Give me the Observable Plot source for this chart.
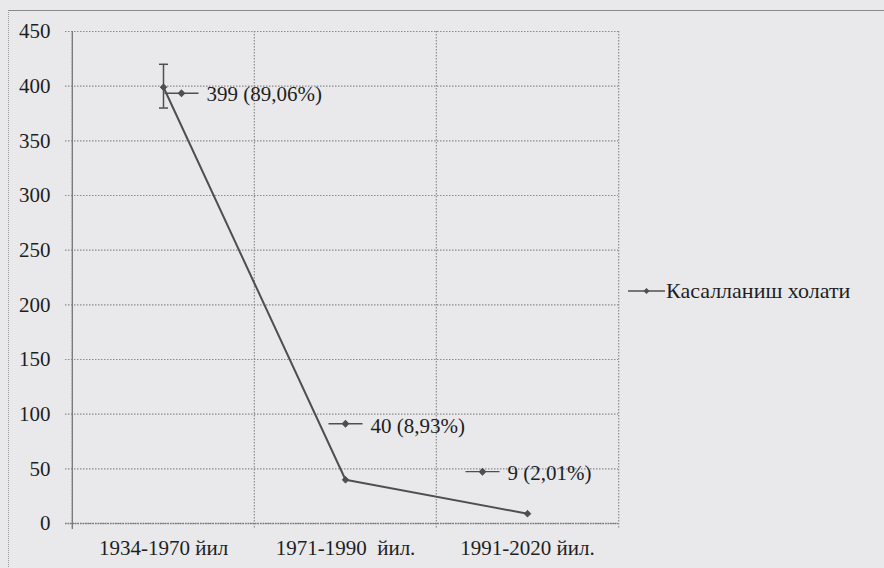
<!DOCTYPE html>
<html>
<head>
<meta charset="utf-8">
<script src="https://cdn.jsdelivr.net/npm/d3@7"></script>
<script src="https://cdn.jsdelivr.net/npm/@observablehq/plot@0.6"></script>
<style>
  html, body { margin: 0; padding: 0; background: #e9e9eb; }
  #wrap { position: relative; width: 884px; height: 568px; overflow: hidden; }
  #frame { position: absolute; left: 8px; top: 10px; width: 900px; height: 600px;
           border-top: 1.5px solid #8a8a8a; border-left: 1px dotted #9a9a9a; pointer-events: none; }
  #legend { position: absolute; left: 628px; top: 278px; display: flex; align-items: center;
            font-size: 22px; color: #1e1e1e; }
  #legend svg { display: block; margin-right: 1px; }
</style>
</head>
<body>
<div id="wrap">
  <div id="chart"></div>
  <div id="frame"></div>
  <div id="legend"></div>
</div>
<script>
// ---- data ----
const categories = ["1934-1970 йил", "1971-1990  йил.", "1991-2020 йил."];
const values = [399, 40, 9];
const labels = ["399 (89,06%)", "40 (8,93%)", "9 (2,01%)"];
const errorLow = [380, null, null];
const errorHigh = [420, null, null];
const yTicks = [0, 50, 100, 150, 200, 250, 300, 350, 400, 450];
const seriesName = "Касалланиш холати";

// ---- layout ----
const W = 884, H = 568;
const mL = 71, mR = 266, mT = 31, mB = 45;
const step = (W - mL - mR) / categories.length;
const ink = "#4f4f4f";
const gridInk = "#8c8c8c";
const serif = "'Liberation Serif', serif";

const rows = categories.map((c, i) => ({cat: c, v: values[i], label: labels[i], lo: errorLow[i], hi: errorHigh[i]}));
const errRows = rows.filter(d => d.lo != null);

// custom symbols
const capSymbol = {draw(ctx) { ctx.moveTo(-4.5, 0); ctx.lineTo(4.5, 0); }};
const markSymbol = {draw(ctx) {
  ctx.moveTo(0, -3.3); ctx.lineTo(3.3, 0); ctx.lineTo(0, 3.3); ctx.lineTo(-3.3, 0); ctx.closePath();
}};
const keySymbol = {draw(ctx) {
  ctx.moveTo(-17, 0); ctx.lineTo(17, 0);
  ctx.moveTo(0, -3); ctx.lineTo(3, 0); ctx.lineTo(0, 3); ctx.lineTo(-3, 0); ctx.closePath();
}};

// per-label placement (offsets in px, as dragged in the original)
const labelPlacement = [
  {kdx: 18, kdy: 6, tdx: 43, tdy: 7},
  {kdx: 0, kdy: -56, tdx: 25, tdy: -54},
  {kdx: -45, kdy: -42, tdx: -20, tdy: -40}
];

const labelMarks = rows.flatMap((d, i) => {
  const p = labelPlacement[i];
  return [
    Plot.dot([d], {x: "cat", y: "v", symbol: keySymbol, r: 4, fill: ink, stroke: ink, strokeWidth: 1.4, dx: p.kdx, dy: p.kdy}),
    Plot.text([d], {x: "cat", y: "v", text: "label", textAnchor: "start", dx: p.tdx, dy: p.tdy,
                    fill: "#1e1e1e", fontSize: 21})
  ];
});

const chart = Plot.plot({
  width: W, height: H,
  marginLeft: mL, marginRight: mR, marginTop: mT, marginBottom: mB,
  style: {background: "transparent", fontSize: "21px", color: "#1e1e1e", overflow: "visible"},
  x: {type: "point", domain: categories, padding: 0.5, label: null, tickSize: 0, tickPadding: 17},
  y: {domain: [0, 450], ticks: yTicks, label: null, tickSize: 0, tickPadding: 21},
  marks: [
    Plot.ruleY(yTicks, {stroke: gridInk, strokeDasharray: "1.5,1.5", strokeWidth: 1.2, insetLeft: -6}),
    Plot.ruleX(categories, {x: d => d, dx: -step / 2, stroke: gridInk, strokeDasharray: "1.5,1.5", strokeWidth: 1.2, insetBottom: -6}),
    Plot.ruleX(categories.slice(-1), {x: d => d, dx: step / 2, stroke: gridInk, strokeDasharray: "1.5,1.5", strokeWidth: 1.2, insetBottom: -6}),
    Plot.ruleX(categories.slice(0, 1), {x: d => d, dx: -step / 2, stroke: "#7a7a7a", strokeWidth: 1.3, insetBottom: -6}),
    Plot.ruleY([0], {stroke: "#7a7a7a", strokeDasharray: "1.5,1", strokeWidth: 1.4, insetLeft: -6}),
    Plot.ruleX(errRows, {x: "cat", y1: "lo", y2: "hi", stroke: ink, strokeWidth: 1.5}),
    Plot.dot(errRows, {x: "cat", y: "lo", symbol: capSymbol, r: 4, stroke: ink, strokeWidth: 1.5}),
    Plot.dot(errRows, {x: "cat", y: "hi", symbol: capSymbol, r: 4, stroke: ink, strokeWidth: 1.5}),
    Plot.line(rows, {x: "cat", y: "v", stroke: ink, strokeWidth: 2}),
    Plot.dot(rows, {x: "cat", y: "v", symbol: markSymbol, r: 4, fill: ink, stroke: ink, strokeWidth: 1}),
    ...labelMarks
  ]
});
chart.style.fontFamily = serif;
d3.select(chart).selectAll("text").each(function() { this.style.fontFamily = serif; this.setAttribute("font-family", serif); });
d3.select(chart).selectAll("g").each(function() { this.style.fontFamily = serif; });
document.getElementById("chart").appendChild(chart);

// legend
const leg = document.getElementById("legend");
leg.style.fontFamily = serif;
const keyW = 37, keyH = 12;
const keySvg = d3.create("svg").attr("width", keyW).attr("height", keyH);
keySvg.append("line").attr("x1", 0).attr("x2", keyW).attr("y1", keyH / 2).attr("y2", keyH / 2)
  .attr("stroke", ink).attr("stroke-width", 1.4);
keySvg.append("path").attr("d", `M0,-3L3,0L0,3L-3,0Z`)
  .attr("transform", `translate(${keyW / 2},${keyH / 2})`).attr("fill", ink);
leg.appendChild(keySvg.node());
const span = document.createElement("span");
span.style.fontFamily = serif;
span.textContent = seriesName;
leg.appendChild(span);
</script>
</body>
</html>
